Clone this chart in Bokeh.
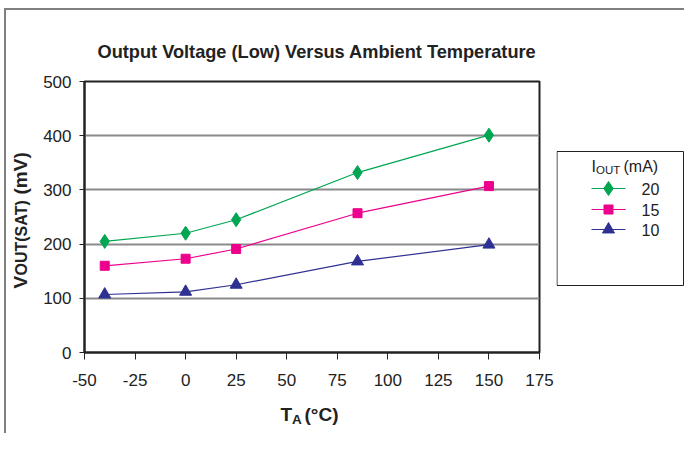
import math
from bokeh.plotting import figure
from bokeh.models import Range1d, FixedTicker
from bokeh.layouts import row, column
from bokeh.embed import file_html
from bokeh.resources import INLINE
from bokeh.core.properties import value

# ---- data ----
temps = [-40, 0, 25, 85, 150]
iout_20 = [205, 220, 245, 332, 401]
iout_15 = [160, 173, 191, 257, 307]
iout_10 = [107, 112, 125, 168, 199]
series_labels = ["20", "15", "10"]
x_ticks = [-50, -25, 0, 25, 50, 75, 100, 125, 150, 175]
y_ticks = [0, 100, 200, 300, 400, 500]
grid_lines = [100, 200, 300, 400]
title_text = "Output Voltage (Low) Versus Ambient Temperature"

FONT = "Liberation Sans"
INK = "#222222"
GREEN = "#00A651"
PINK = "#EC008C"
BLUE = "#2E3192"
GRID = "#8a8a8a"

TOP, BOTTOM, FRAME_H = 71, 45, 271
ROW_H = TOP + FRAME_H + BOTTOM


def blank_fig(w, h, xr, yr, top=0, bottom=0):
    f = figure(width=w, height=h, output_backend="svg", toolbar_location=None,
               title_location=None,
               x_range=Range1d(*xr), y_range=Range1d(*yr),
               x_axis_location=None, y_axis_location=None,
               min_border_left=0, min_border_right=0, min_border_top=top, min_border_bottom=bottom)
    f.grid.visible = False
    f.outline_line_color = None
    f.border_fill_color = "white"
    f.background_fill_color = "white"
    return f


def txt(f, x, y, s, size, bold=True, angle=0.0, baseline="alphabetic"):
    f.text(x=[x], y=[y], text=[s], angle=angle, text_font=value(FONT), text_font_size=size,
           text_font_style="bold" if bold else "normal", text_color=INK,
           text_align="left", text_baseline=baseline)


# ---- main chart ----
p = figure(width=516, height=ROW_H, output_backend="svg", toolbar_location=None,
           x_range=Range1d(x_ticks[0], x_ticks[-1]), y_range=Range1d(y_ticks[0], y_ticks[-1]),
           min_border_left=39, min_border_right=17, min_border_top=TOP, min_border_bottom=BOTTOM)
p.outline_line_color = INK
p.outline_line_width = 2
p.border_fill_color = "white"
p.title.text = title_text
p.title.align = "left"
p.title.offset = 13
p.title.standoff = 40
p.title.text_font = FONT
p.title.text_font_size = "18.2px"
p.title.text_font_style = "bold"
p.title.text_color = INK

p.xgrid.visible = False
p.ygrid.ticker = FixedTicker(ticks=grid_lines)
p.ygrid.grid_line_color = GRID
p.ygrid.grid_line_width = 2

p.xaxis.ticker = FixedTicker(ticks=x_ticks)
p.yaxis.ticker = FixedTicker(ticks=y_ticks)
p.xaxis.major_label_overrides = {t: str(t) for t in x_ticks}
for ax in (p.xaxis[0], p.yaxis[0]):
    ax.axis_line_color = INK
    ax.axis_line_width = 2
    ax.major_tick_line_color = INK
    ax.major_tick_line_width = 1
    ax.major_tick_in = 0
    ax.minor_tick_line_color = None
    ax.major_label_text_font = FONT
    ax.major_label_text_font_size = "17px"
    ax.major_label_text_color = INK
p.xaxis.major_tick_out = 7
p.xaxis.major_label_standoff = 14
p.yaxis.major_tick_out = 5
p.yaxis.major_label_standoff = 8

series = [(iout_20, GREEN, "diamond", 14), (iout_15, PINK, "square", 9), (iout_10, BLUE, "triangle", 12)]
for vals, col, mk, sz in series:
    p.line(temps, vals, line_color=col, line_width=1.2)
    p.scatter(temps, vals, marker=mk, size=sz, fill_color=col, line_color=col)

# ---- y-axis label panel (page x 6..40) ----
yl = blank_fig(34, ROW_H, (0, 34), (0, FRAME_H), top=TOP, bottom=BOTTOM)
ang = math.pi / 2
txt(yl, 14, 64, "V", "19px", angle=ang)
txt(yl, 15, 77, "OUT(SAT)", "16px", angle=ang)
txt(yl, 14, 158, "(mV)", "19px", angle=ang)

# ---- legend panel (page x 556..684) ----
q = blank_fig(128, ROW_H, (0, 128), (0, FRAME_H), top=TOP, bottom=BOTTOM)
q.quad(left=[0.5], right=[127], bottom=[352 - 285], top=[352 - 151],
       fill_color=None, line_color=INK, line_width=1)
leg_y = [352 - 188, 352 - 209, 352 - 229]
for (vals, col, mk, sz), ly in zip(series, leg_y):
    q.line([35, 69], [ly, ly], line_color=col, line_width=1.2)
    q.scatter([52], [ly], marker=mk, size=sz, fill_color=col, line_color=col)
q.text(x=[85] * 3, y=leg_y, text=series_labels, text_font=value(FONT), text_font_size="16px",
       text_color=INK, text_baseline="middle", text_align="left")
txt(q, 35, 352 - 166, "I", "16px", bold=False)
txt(q, 39.5, 352 - 169, "OUT", "11.5px", bold=False)
txt(q, 67, 352 - 166, "(mA)", "16px", bold=False)

# ---- x-axis label panel (page y 397..433) ----
xl = blank_fig(678, 36, (0, 678), (0, 36))
txt(xl, 280 - 6, 19, "T", "19px")
txt(xl, 291.5 - 6, 14, "A", "13.5px")
txt(xl, 304 - 6, 19, "(°C)", "19px")

layout = column(row(yl, p, q), xl,
                styles={"border-top": "2px solid #808080", "border-left": "2px solid #808080",
                        "margin-left": "4px", "margin-top": "8px"})

open("out.html", "w").write(file_html(layout, INLINE))
